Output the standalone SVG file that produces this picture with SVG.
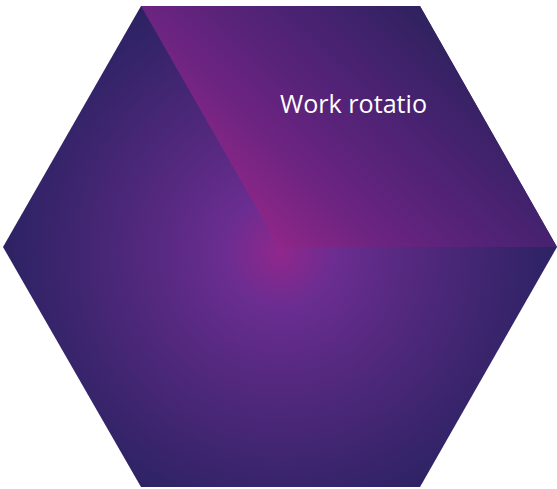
<svg xmlns="http://www.w3.org/2000/svg" width="557" height="489" viewBox="0 0 557 489">
  <defs>
    <radialGradient id="hexGrad" gradientUnits="userSpaceOnUse" cx="280" cy="252" r="285">
      <stop offset="0" stop-color="#90278c"/>
      <stop offset="0.2" stop-color="#6a2d91"/>
      <stop offset="0.45" stop-color="#55297f"/>
      <stop offset="1" stop-color="#2a2262"/>
    </radialGradient>
    <linearGradient id="wedgeGrad" gradientUnits="userSpaceOnUse" x1="280" y1="247" x2="469" y2="55">
      <stop offset="0" stop-color="#8e2688"/>
      <stop offset="0.27" stop-color="#6c2481"/>
      <stop offset="0.5" stop-color="#572379"/>
      <stop offset="0.72" stop-color="#462270"/>
      <stop offset="1" stop-color="#2f225f"/>
    </linearGradient>
    <style>
      .label { font-family: "Open Sans", "Liberation Sans", sans-serif; font-size: 25px; fill: #ffffff; }
    </style>
  </defs>
  <g id="hexagon">
    <polygon points="141,6 420,6 557,247 420,487 141,487 3,247" fill="url(#hexGrad)"/>
  </g>
  <g id="work-rotation">
    <polygon points="141,6 420,6 557,247 279,247" fill="url(#wedgeGrad)"/>
    <text class="label" x="280" y="113" textLength="147" lengthAdjust="spacingAndGlyphs">Work rotatio</text>
  </g>
  <g id="connectors"/>
</svg>
